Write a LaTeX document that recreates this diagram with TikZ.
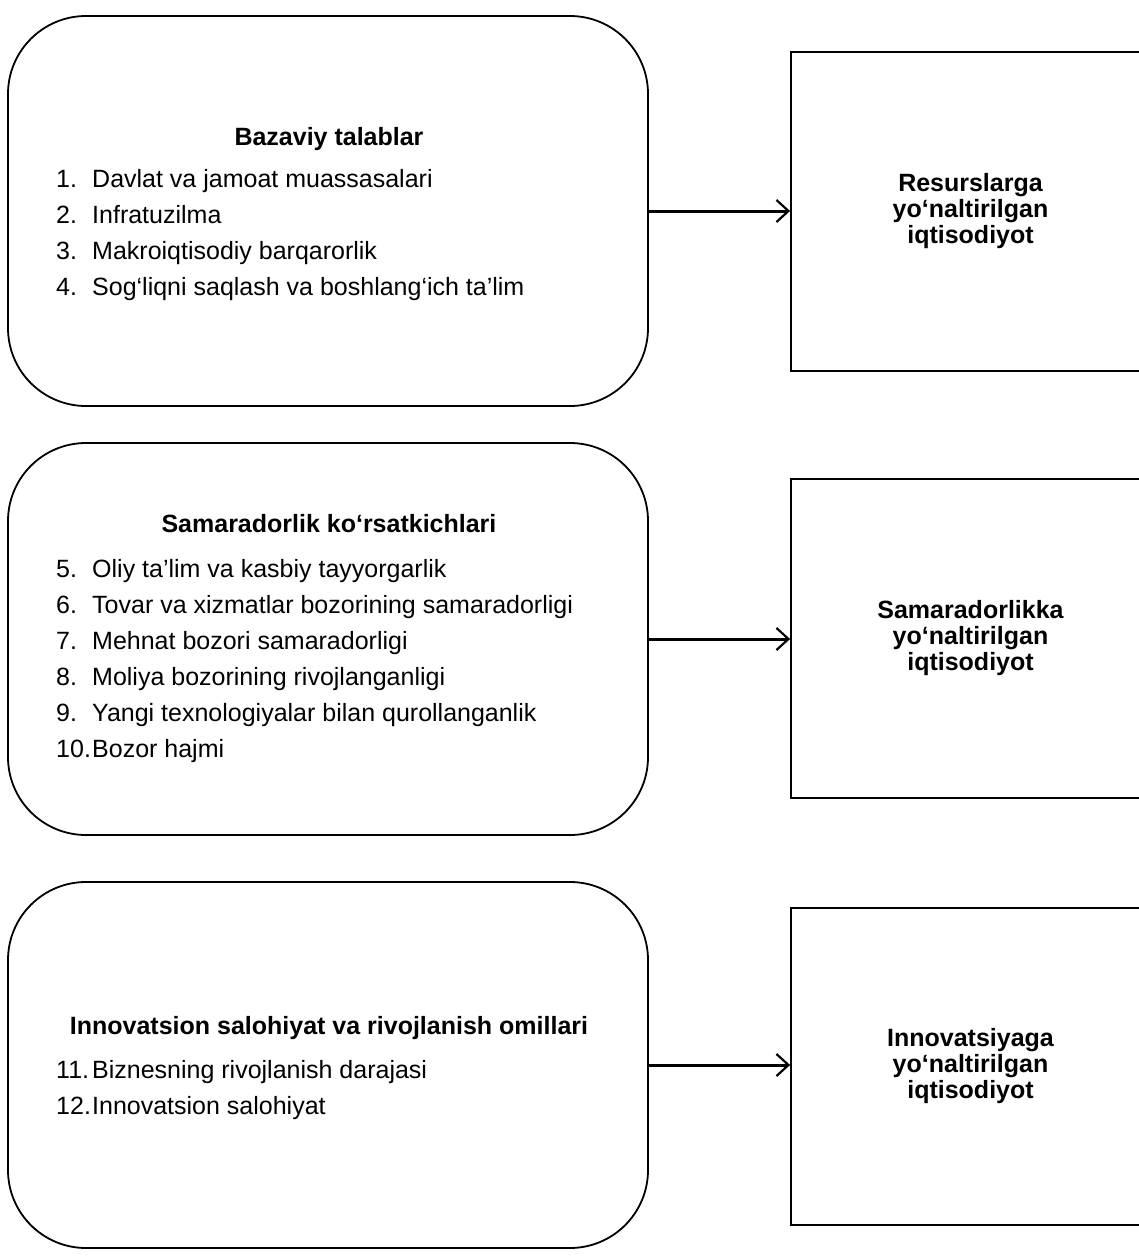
\documentclass[tikz,border=0pt]{standalone}
\usepackage{fontspec}
\setmainfont{Liberation Sans}
\usetikzlibrary{arrows.meta}
\begin{document}
\begin{tikzpicture}[x=1pt,y=-1pt,
  roundbox/.style={draw, line width=1.8pt, rounded corners=78pt, minimum width=640pt, inner sep=0pt},
  outbox/.style={draw, line width=1.8pt, minimum width=359pt, minimum height=319pt, inner sep=0pt, align=center, font=\fontsize{25}{26}\selectfont\bfseries},
  ttl/.style={font=\fontsize{25}{30}\selectfont\bfseries, anchor=base, inner sep=0pt},
  itm/.style={font=\fontsize{25}{30}\selectfont, anchor=base west, inner sep=0pt},
  conn/.style={line width=3pt, -{Straight Barb[length=12pt,width=22pt,line width=2.2pt]}}
]
\clip (0,0) rectangle (1139,1256);
\fill[white] (0,0) rectangle (1139,1256);
\newcommand{\num}[1]{\makebox[36pt][l]{#1}}

% Block 1
\node[roundbox, minimum height=390pt] (b1) at (328,211) {};
\node[ttl] (t1) at (329,145) {Bazaviy talablar};
\node[itm] (i1) at (56,187) {\num{1.}Davlat va jamoat muassasalari};
\node[itm] (i2) at (56,223) {\num{2.}Infratuzilma};
\node[itm] (i3) at (56,259) {\num{3.}Makroiqtisodiy barqarorlik};
\node[itm] (i4) at (56,295) {\num{4.}Sog‘liqni saqlash va boshlang‘ich ta’lim};
\node[outbox] (r1) at (970.5,211.5) {Resurslarga\\yo‘naltirilgan\\iqtisodiyot};
\draw[conn] (b1.east) -- (b1.east -| r1.west);

% Block 2
\node[roundbox, minimum height=392pt] (b2) at (328,639) {};
\node[ttl] (t2) at (329,532) {Samaradorlik ko‘rsatkichlari};
\node[itm] (i5) at (56,577) {\num{5.}Oliy ta’lim va kasbiy tayyorgarlik};
\node[itm] (i6) at (56,613) {\num{6.}Tovar va xizmatlar bozorining samaradorligi};
\node[itm] (i7) at (56,649) {\num{7.}Mehnat bozori samaradorligi};
\node[itm] (i8) at (56,685) {\num{8.}Moliya bozorining rivojlanganligi};
\node[itm] (i9) at (56,721) {\num{9.}Yangi texnologiyalar bilan qurollanganlik};
\node[itm] (i10) at (56,757) {\num{10.}Bozor hajmi};
\node[outbox] (r2) at (970.5,638.5) {Samaradorlikka\\yo‘naltirilgan\\iqtisodiyot};
\draw[conn] (b2.east) -- (b2.east -| r2.west);

% Block 3
\node[roundbox, minimum height=366pt] (b3) at (328,1065) {};
\node[ttl] (t3) at (329,1034) {Innovatsion salohiyat va rivojlanish omillari};
\node[itm] (i11) at (56,1078) {\num{11.}Biznesning rivojlanish darajasi};
\node[itm] (i12) at (56,1114) {\num{12.}Innovatsion salohiyat};
\node[outbox, minimum height=317pt] (r3) at (970.5,1066.5) {Innovatsiyaga\\yo‘naltirilgan\\iqtisodiyot};
\draw[conn] (b3.east) -- (b3.east -| r3.west);
\end{tikzpicture}
\end{document}
